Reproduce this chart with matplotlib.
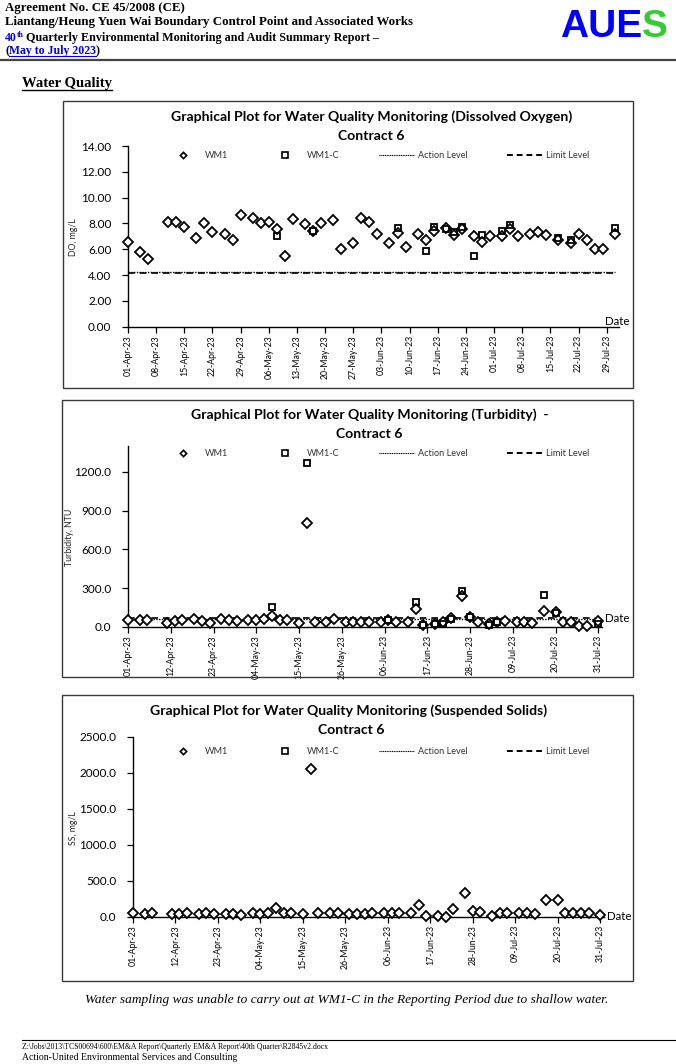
import matplotlib
matplotlib.use("Agg")
import matplotlib.pyplot as plt
import matplotlib.dates as mdates
from matplotlib.lines import Line2D
from matplotlib.patches import Rectangle
import numpy as np

plt.rcParams['font.family'] = ['Lato', 'DejaVu Sans']

# ---------------- data ----------------
sample_dates = [
    "2023-04-01", "2023-04-04", "2023-04-06", "2023-04-11", "2023-04-13", "2023-04-15",
    "2023-04-18", "2023-04-20", "2023-04-22", "2023-04-25", "2023-04-27", "2023-04-29",
    "2023-05-02", "2023-05-04", "2023-05-06", "2023-05-08", "2023-05-10", "2023-05-12",
    "2023-05-15", "2023-05-17", "2023-05-19", "2023-05-22", "2023-05-24", "2023-05-27",
    "2023-05-29", "2023-05-31",
    "2023-06-02", "2023-06-05", "2023-06-07", "2023-06-09", "2023-06-12", "2023-06-14",
    "2023-06-16", "2023-06-19", "2023-06-21", "2023-06-23", "2023-06-26", "2023-06-28",
    "2023-06-30",
    "2023-07-03", "2023-07-05", "2023-07-07", "2023-07-10", "2023-07-12", "2023-07-14",
    "2023-07-17", "2023-07-20", "2023-07-22", "2023-07-24", "2023-07-26", "2023-07-28",
    "2023-07-31",
]
wm1c_dates = ["2023-05-08", "2023-05-17", "2023-06-07", "2023-06-14", "2023-06-16",
              "2023-06-19", "2023-06-21", "2023-06-23", "2023-06-26", "2023-06-28",
              "2023-07-03", "2023-07-05", "2023-07-17", "2023-07-20", "2023-07-31"]

do_wm1 = [6.6, 5.8, 5.25, 8.15, 8.1, 7.75, 6.85, 8.0, 7.35, 7.15, 6.75, 8.65,
          8.4, 8.0, 8.15, 7.55, 5.45, 8.35, 7.95, 7.45, 8.05, 8.25, 6.0, 6.45, 8.45, 8.15,
          7.2, 6.5, 7.25, 6.2, 7.15, 6.7, 7.45, 7.65, 7.1, 7.55, 7.05, 6.6, 7.0,
          7.05, 7.6, 7.05, 7.2, 7.35, 7.1, 6.7, 6.45, 7.15, 6.7, 6.0, 6.0, 7.2]
do_wm1c = [7.0, 7.4, 7.65, 5.9, 7.75, 7.6, 7.3, 7.7, 5.45, 7.1, 7.45, 7.9, 6.9, 6.75, 7.65]

turb_wm1 = [54, 49, 54, 28, 44, 54, 57, 44, 28, 57, 54, 41,
            54, 54, 62, 80, 52, 52, 30, 805, 34, 35, 57, 35, 35, 40,
            40, 40, 50, 40, 35, 140, 13, 18, 39, 65, 235, 72, 39,
            18, 39, 47, 39, 39, 31, 125, 116, 39, 39, 5, 5, 47]
turb_wm1c = [155, 1270, 50, 195, 15, 20, 18, 60, 278, 75, 15, 40, 246, 110, 18]

ss_wm1 = [46, 32, 46, 32, 32, 46, 32, 46, 32, 32, 32, 23,
          46, 37, 46, 116, 46, 46, 32, 2055, 46, 46, 46, 37, 37, 37,
          46, 46, 46, 46, 46, 162, 5, 5, 2, 106, 333, 79, 60,
          9, 46, 46, 46, 46, 37, 232, 232, 46, 46, 46, 46, 23]
ss_wm1c_dates = []
ss_wm1c = []

do_action, do_limit = 4.22, 4.18
turb_action, turb_limit = 63.0, 67.0

# ---------------- figure ----------------
W, H = 676, 1064
fig = plt.figure(figsize=(W / 100, H / 100), dpi=100)
fig.patch.set_facecolor('white')


def fx(x):
    return x / W


def fy(y):
    return 1 - y / H


def frame(x0, y0, x1, y1):
    fig.add_artist(Rectangle((fx(x0), fy(y1)), (x1 - x0) / W, (y1 - y0) / H,
                             transform=fig.transFigure, fill=False,
                             edgecolor='#3a3a3a', lw=1.0))


def hline(x0, x1, y, lw=1.0, color='black'):
    fig.add_artist(Line2D([fx(x0), fx(x1)], [fy(y), fy(y)], transform=fig.transFigure,
                          color=color, lw=lw))


renderer = fig.canvas.get_renderer()


def text_w(t):
    bb = t.get_window_extent(renderer=renderer)
    return bb.width


serif = ['Liberation Serif', 'DejaVu Serif']
blue = '#0000ee'

# header
fig.text(fx(5), fy(8), 'Agreement No. CE 45/2008 (CE)', family=serif, weight='bold',
         fontsize=9.3, va='center', ha='left')
fig.text(fx(5), fy(22.5), 'Liantang/Heung Yuen Wai Boundary Control Point and Associated Works',
         family=serif, weight='bold', fontsize=9.3, va='center', ha='left')
t40 = fig.text(fx(5), fy(38), '40', family=serif, weight='bold', fontsize=8.5, color=blue,
               va='center', ha='left')
x = 5 + text_w(t40)
tth = fig.text(fx(x), fy(35), 'th', family=serif, weight='bold', fontsize=5.5, color=blue,
               va='center', ha='left')
x += text_w(tth) + 2
fig.text(fx(x), fy(38), 'Quarterly Environmental Monitoring and Audit Summary Report \u2013',
         family=serif, weight='bold', fontsize=8.7, va='center', ha='left')
tp = fig.text(fx(5), fy(51), '(', family=serif, weight='bold', fontsize=8.5,
              va='center', ha='left')
x = 5 + text_w(tp)
tm = fig.text(fx(x), fy(51), 'May to July 2023', family=serif, weight='bold', fontsize=8.5,
              color=blue, va='center', ha='left')
wm = text_w(tm)
hline(x, x + wm, 56, lw=0.8, color=blue)
fig.text(fx(x + wm), fy(51), ')', family=serif, weight='bold', fontsize=8.5,
         va='center', ha='left')

ta = fig.text(fx(560), fy(27), 'AUE', family=['Liberation Sans', 'DejaVu Sans'],
              weight='bold', fontsize=28, color='#0000ff', va='center', ha='left')
fig.text(fx(560 + text_w(ta)), fy(27), 'S', family=['Liberation Sans', 'DejaVu Sans'],
         weight='bold', fontsize=28, color='#33cc33', va='center', ha='left')
hline(0, 676, 60, lw=1.6, color='#444444')

twq = fig.text(fx(22), fy(83), 'Water Quality', family=serif, weight='bold', fontsize=10.5,
               va='center', ha='left')
hline(22, 22 + text_w(twq), 90, lw=1.0)

# footnote / footer
fig.text(fx(347), fy(1000),
         'Water sampling was unable to carry out at WM1-C in the Reporting Period due to shallow water.',
         family=serif, style='italic', fontsize=9.6, va='center', ha='center')
hline(22, 676, 1040, lw=0.8)
fig.text(fx(22), fy(1047),
         r'Z:\Jobs\2013\TCS00694\600\EM&A Report\Quarterly EM&A Report\40th Quarter\R2845v2.docx',
         family=serif, fontsize=5.6, va='center', ha='left')
fig.text(fx(22), fy(1058), 'Action-United Environmental Services and Consulting',
         family=serif, fontsize=7, va='center', ha='left')


def to_dt(lst):
    return np.array(lst, dtype='datetime64[D]')


def chart(box, ax_px, title1, title1_c, title2_c, title_y, ylim, yticks, yfmt, ylabel,
          ylabel_pos, xticks, wm1, wm1c_d, wm1c, action, limit, legend_y, date_pos):
    frame(*box)
    l, t, r, b = ax_px
    ax = fig.add_axes([fx(l), fy(b), (r - l) / W, (b - t) / H])
    d = to_dt(sample_dates)
    ax.plot(d, wm1, ls='none', marker='D', ms=4.7, mfc='white', mec='black', mew=1.3,
            zorder=3, clip_on=False)
    if len(wm1c):
        ax.plot(to_dt(wm1c_d), wm1c, ls='none', marker='s', ms=5.0, mfc='none', mec='black',
                mew=1.3, zorder=4, clip_on=False)
    if action is not None:
        ax.plot([d[0], d[-1]], [action, action], color='black', lw=1.0, ls=(0, (1, 1)),
                zorder=2)
        ax.plot([d[0], d[-1]], [limit, limit], color='black', lw=1.2, ls=(0, (4, 3)),
                zorder=2)
    ax.set_xlim(np.datetime64('2023-04-01'), np.datetime64('2023-08-01'))
    ax.set_ylim(*ylim)
    ax.set_yticks(yticks)
    ax.yaxis.set_major_formatter(plt.FormatStrFormatter(yfmt))
    ax.set_xticks(to_dt(xticks))
    ax.xaxis.set_major_formatter(mdates.DateFormatter('%d-%b-%y'))
    for s in ['top', 'right']:
        ax.spines[s].set_visible(False)
    for s in ['left', 'bottom']:
        ax.spines[s].set_linewidth(1.0)
        ax.spines[s].set_color('black')
    ax.tick_params(axis='y', direction='out', length=4, width=0.9, labelsize=8.5, pad=8,
                   colors='black')
    ax.tick_params(axis='x', direction='out', length=4, width=0.9, labelsize=6.3, pad=2,
                   labelrotation=90, colors='black')
    ax.set_facecolor('none')
    # titles
    fig.text(fx(title1_c), fy(title_y), title1, ha='center', va='center', fontsize=10.1,
             weight='bold')
    fig.text(fx(title2_c), fy(title_y + 19), 'Contract 6', ha='center', va='center',
             fontsize=10.1, weight='bold')
    fig.text(fx(ylabel_pos[0]), fy(ylabel_pos[1]), ylabel, rotation=90, ha='center',
             va='center', fontsize=6.3, color='#222222')
    fig.text(fx(date_pos[0]), fy(date_pos[1]), 'Date', ha='left', va='center', fontsize=8.3)
    handles = [
        Line2D([], [], ls='none', marker='D', ms=3.2, mfc='white', mec='black', mew=1.2),
        Line2D([], [], ls='none', marker='s', ms=3.8, mfc='white', mec='black', mew=1.2),
        Line2D([], [], color='black', lw=0.8, ls=(0, (1, 0.6))),
        Line2D([], [], color='black', lw=1.4, ls=(0, (3, 2))),
    ]
    leg = fig.legend(handles, ['WM1', 'WM1-C', 'Action Level', 'Limit Level'],
                     loc='center left', bbox_to_anchor=(fx(165), fy(legend_y)),
                     bbox_transform=fig.transFigure, ncol=4, frameon=False, fontsize=6.6,
                     handlelength=3.9, handletextpad=0.4, columnspacing=4.3,
                     borderpad=0, borderaxespad=0)
    for tx in leg.get_texts():
        tx.set_color('#333333')
    return ax


do_ticks = ["2023-04-01", "2023-04-08", "2023-04-15", "2023-04-22", "2023-04-29", "2023-05-06",
            "2023-05-13", "2023-05-20", "2023-05-27", "2023-06-03", "2023-06-10", "2023-06-17",
            "2023-06-24", "2023-07-01", "2023-07-08", "2023-07-15", "2023-07-22", "2023-07-29"]
eleven_ticks = ["2023-04-01", "2023-04-12", "2023-04-23", "2023-05-04", "2023-05-15",
                "2023-05-26", "2023-06-06", "2023-06-17", "2023-06-28", "2023-07-09",
                "2023-07-20", "2023-07-31"]

chart((63, 101, 633, 388), (128, 146, 618.8, 326.7),
      'Graphical Plot for Water Quality Monitoring (Dissolved Oxygen)', 371.5, 371, 116.7,
      (0, 14), np.arange(0, 14.01, 2), '%.2f', 'DO, mg/L', (73, 237), do_ticks,
      do_wm1, wm1c_dates, do_wm1c, do_action, do_limit, 156, (605, 322))

chart((62, 400, 633, 677), (128, 446.2, 602.2, 626.7),
      'Graphical Plot for Water Quality Monitoring (Turbidity)  -', 369.7, 369.5, 415,
      (0, 1400), np.arange(0, 1201, 300), '%.1f', 'Turbidity, NTU', (70, 537), eleven_ticks,
      turb_wm1, wm1c_dates, turb_wm1c, turb_action, turb_limit, 453.3, (605, 619))

chart((62, 695, 633, 981), (133, 736.7, 604, 916.7),
      'Graphical Plot for Water Quality Monitoring (Suspended Solids)', 348.8, 350.8, 710.7,
      (0, 2500), np.arange(0, 2501, 500), '%.1f', 'SS, mg/L', (73, 828), eleven_ticks,
      ss_wm1, ss_wm1c_dates, ss_wm1c, None, None, 751.7, (607, 916))

fig.savefig('out.png', dpi=100)
